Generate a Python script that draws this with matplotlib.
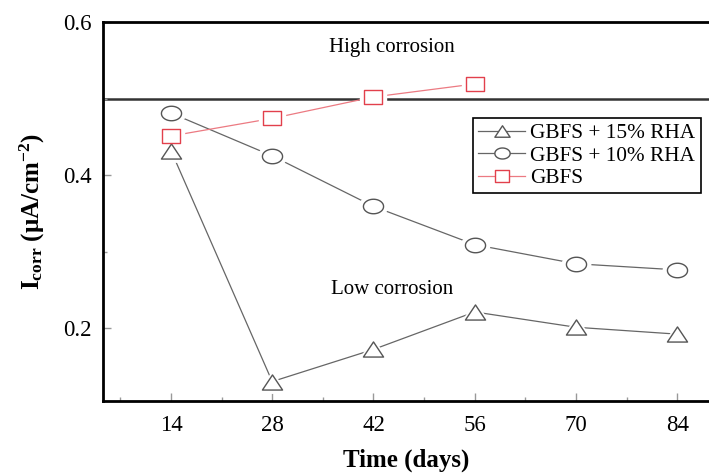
import matplotlib
matplotlib.use("Agg")
import matplotlib.pyplot as plt
import numpy as np
from matplotlib.path import Path
from matplotlib.ticker import MultipleLocator

plt.rcParams['font.family'] = ['Liberation Serif', 'DejaVu Serif']
plt.rcParams['mathtext.fontset'] = 'custom'
plt.rcParams['mathtext.rm'] = 'Liberation Serif:bold'
plt.rcParams['mathtext.bf'] = 'Liberation Serif:bold'
plt.rcParams['mathtext.it'] = 'Liberation Serif:bold'

# Data
days = [14, 28, 42, 56, 70, 84]
gbfs_15rha = [0.432, 0.130, 0.172, 0.221, 0.201, 0.192]
gbfs_10rha = [0.481, 0.425, 0.359, 0.309, 0.284, 0.276]
days_gbfs = [14, 28, 42, 56]
gbfs = [0.451, 0.474, 0.502, 0.519]
threshold = 0.5
xticks = [14, 28, 42, 56, 70, 84]
yticks = [0.2, 0.4, 0.6]
labels = ['GBFS + 15% RHA', 'GBFS + 10% RHA', 'GBFS']

# squashed markers (wider than tall)
t = np.linspace(0, 2 * np.pi, 60)
ellipse = Path(np.column_stack([np.cos(t), 0.72 * np.sin(t)]), closed=True)
tri = Path([(0, 0.75), (-1, -0.75), (1, -0.75), (0, 0.75)], closed=True)
sq = Path([(-1, -0.85), (1, -0.85), (1, 0.85), (-1, 0.85), (-1, -0.85)], closed=True)

fig = plt.figure(figsize=(7.09, 4.73), dpi=100)
ax = fig.add_axes([103 / 709, 72 / 473, 606 / 709, 379 / 473])

red = '#e2404c'

def series(x, y, marker, ms, color, lc, label, lms):
    ax.plot(x, y, '-', color=lc, lw=0.9, zorder=2)
    ax.plot(x, y, linestyle='none', marker=marker, ms=ms + 6, mfc='white',
            mec='white', zorder=3)
    ax.plot(x, y, linestyle='none', marker=marker, ms=ms, mfc='white',
            mec=color, mew=1.0, zorder=4)
    return ax.plot([], [], '-', color=lc, lw=0.9, marker=marker, ms=lms,
                   mfc='white', mec=color, mew=1.0, label=label)[0]

h1 = series(days, gbfs_15rha, tri, 14.5, '#555555', '#666666', labels[0], 11)
h2 = series(days, gbfs_10rha, ellipse, 14.5, '#555555', '#666666', labels[1], 11)
h3 = series(days_gbfs, gbfs, sq, 12.5, red, '#ec7a82', labels[2], 9.5)

ax.axhline(threshold, color='#333333', lw=1.8, zorder=1)

ax.text(44.6, 0.567, 'High corrosion', fontsize=15, ha='center', va='center')
ax.text(44.6, 0.2497, 'Low corrosion', fontsize=15, ha='center', va='center')

ax.set_xlim(4.6, 88.4)
ax.set_ylim(0.1046, 0.6)
ax.set_xticks(xticks)
ax.set_yticks(yticks)
ax.set_yticklabels([f'{v:.1f}' for v in yticks])
ax.xaxis.set_minor_locator(MultipleLocator(7))
ax.yaxis.set_minor_locator(MultipleLocator(0.1))
ax.tick_params(which='both', direction='in', color='#999999', labelsize=16.5,
               top=False, right=False)
ax.tick_params(which='major', length=6, width=1)
ax.tick_params(which='minor', length=3, width=1)
ax.tick_params(axis='x', pad=10)
ax.tick_params(axis='y', pad=8)

for s in ['left', 'bottom', 'top']:
    ax.spines[s].set_linewidth(2)
    ax.spines[s].set_color('black')
ax.spines['right'].set_visible(False)

ax.set_xlabel('Time (days)', fontsize=18, fontweight='bold', labelpad=9)
ax.set_ylabel(r'I$_{corr}$ (μA/cm$^{-2}$)', fontsize=18, fontweight='bold',
              labelpad=12)

leg = ax.legend(handles=[h1, h2, h3], loc='upper left',
                bbox_to_anchor=((473 - 103) / 606, (401 - 118) / 379),
                fontsize=15.3, frameon=True, fancybox=False, edgecolor='black',
                framealpha=1, handlelength=2.2, handletextpad=0.25,
                borderpad=0.25, labelspacing=0.12, borderaxespad=0)
leg.get_frame().set_linewidth(1.2)

fig.savefig('out.png', dpi=100)
